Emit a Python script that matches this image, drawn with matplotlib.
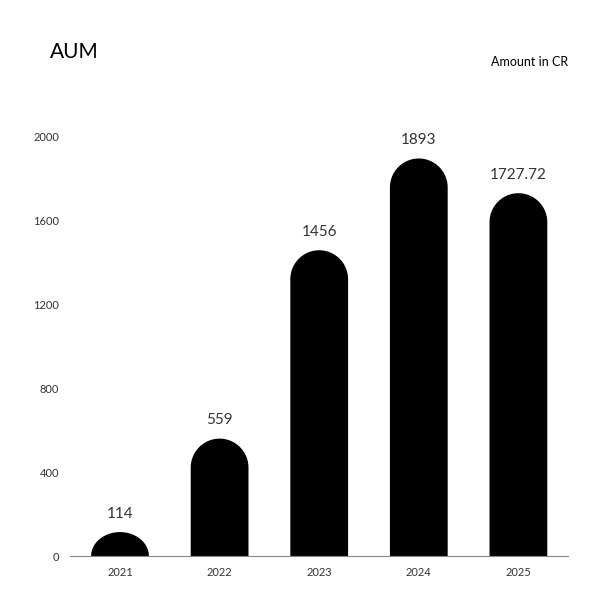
import numpy as np
import matplotlib.pyplot as plt
from matplotlib.patches import PathPatch
from matplotlib.path import Path

plt.rcParams['font.family'] = ['Lato', 'DejaVu Sans']

years = ['2021', '2022', '2023', '2024', '2025']
values = [114, 559, 1456, 1893, 1727.72]
labels = ['114', '559', '1456', '1893', '1727.72']

fig = plt.figure(figsize=(6, 6), dpi=100)
ax = fig.add_axes([0.117, 0.0733, 0.83, 0.84])
ax.set_xlim(-0.5, 4.5)
ax.set_ylim(0, 2400)

w = 0.58
cap = 138  # cap height in data units (half bar width in pixels)

for i, v in enumerate(values):
    h = min(cap, v)
    base = v - h
    t = np.linspace(np.pi, 0, 60)
    xs = i + (w / 2) * np.cos(t)
    ys = base + h * np.sin(t)
    verts = [(i - w / 2, 0)] + list(zip(xs, ys)) + [(i + w / 2, 0), (i - w / 2, 0)]
    codes = [Path.MOVETO] + [Path.LINETO] * (len(verts) - 2) + [Path.CLOSEPOLY]
    ax.add_patch(PathPatch(Path(verts, codes), facecolor='black', edgecolor='none'))
    ax.text(i, v + 55, labels[i], ha='center', va='bottom', fontsize=11, color='#333333')

ax.set_xticks(range(len(years)))
ax.set_xticklabels(years)
ax.set_yticks([0, 400, 800, 1200, 1600, 2000])
ax.tick_params(length=0, labelsize=8, colors='#333333', pad=8)
for s in ['top', 'right', 'left']:
    ax.spines[s].set_visible(False)
ax.spines['bottom'].set_color('#888888')

fig.text(50 / 600, 1 - 52 / 600, 'AUM', fontsize=15, va='center', ha='left')
fig.text(568 / 600, 1 - 62 / 600, 'Amount in CR', fontsize=9, va='center', ha='right')

fig.savefig('out.png', dpi=100)
